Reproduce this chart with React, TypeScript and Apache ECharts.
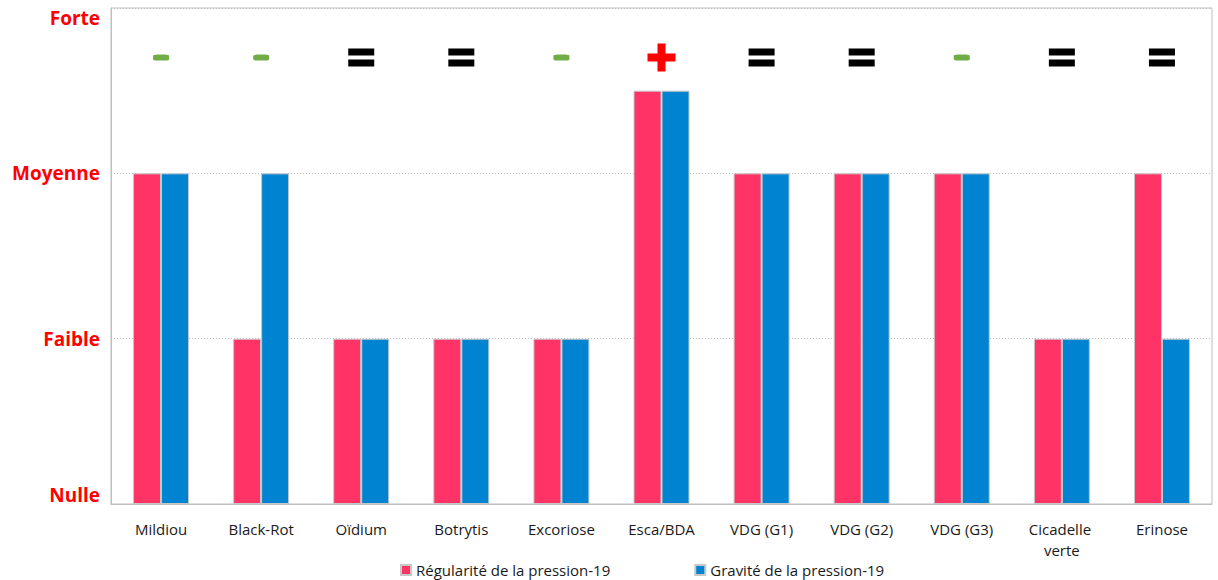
import React, { useEffect, useRef } from "react";
import * as echarts from "echarts";

const categories = [
  "Mildiou",
  "Black-Rot",
  "Oïdium",
  "Botrytis",
  "Excoriose",
  "Esca/BDA",
  "VDG (G1)",
  "VDG (G2)",
  "VDG (G3)",
  "Cicadelle verte",
  "Erinose",
];
const regularite = [2, 1, 1, 1, 1, 2.5, 2, 2, 2, 1, 2];
const gravite = [2, 2, 1, 1, 1, 2.5, 2, 2, 2, 1, 1];
const tendance = ["-", "-", "=", "=", "-", "+", "=", "=", "-", "=", "="];
const tendanceLevel = 2.7;
const yLabels = ["Nulle", "Faible", "Moyenne", "Forte"];
const seriesNames = ["Régularité de la pression-19", "Gravité de la pression-19"];

const FONT = "'Open Sans', sans-serif";

const symbolFor: Record<string, { symbol: string; size: number[]; color: string }> = {
  "-": { symbol: "roundRect", size: [16, 6], color: "#70AD47" },
  "=": {
    symbol: "path://M0,0 H26 V7 H0 Z M0,11 H26 V18 H0 Z",
    size: [26, 18],
    color: "#000000",
  },
  "+": {
    symbol: "path://M10,0 H18 V10 H28 V18 H18 V28 H10 V18 H0 V10 H10 Z",
    size: [28, 28],
    color: "#FF0000",
  },
};

export default function App() {
  const ref = useRef<HTMLDivElement>(null);
  useEffect(() => {
    if (!ref.current) return;
    const chart = echarts.init(ref.current, null, { renderer: "svg" });
    const trendData = tendance.map((t, i) => ({
      value: [categories[i], tendanceLevel],
      symbol: symbolFor[t].symbol,
      symbolSize: symbolFor[t].size,
      itemStyle: { color: symbolFor[t].color, opacity: 1 },
    }));
    chart.setOption({
      animation: false,
      backgroundColor: "#ffffff",
      grid: {
        left: 111,
        right: 6,
        top: 8,
        bottom: 76,
        show: true,
        borderColor: "#BFBFBF",
        borderWidth: 1,
        containLabel: false,
      },
      legend: {
        data: seriesNames,
        top: 562,
        left: 400,
        padding: 0,
        itemGap: 84,
        itemWidth: 10,
        itemHeight: 10,
        icon: "rect",
        textStyle: { fontFamily: FONT, fontSize: 15, color: "#1a1a1a", lineHeight: 16 },
      },
      xAxis: {
        type: "category",
        data: categories,
        axisLine: { lineStyle: { color: "#BFBFBF" } },
        axisTick: { show: false },
        axisLabel: {
          fontFamily: FONT,
          fontSize: 15,
          color: "#1a1a1a",
          margin: 14,
          lineHeight: 21,
          width: 92,
          overflow: "break",
          interval: 0,
        },
      },
      yAxis: {
        type: "value",
        min: 0,
        max: 3,
        interval: 1,
        axisLine: { show: true, lineStyle: { color: "#BFBFBF" } },
        axisTick: { show: false },
        splitLine: { lineStyle: { color: "#BFBFBF", type: [1, 2] } },
        axisLabel: {
          formatter: (v: number) => yLabels[Math.round(v)] ?? "",
          fontFamily: FONT,
          fontSize: 19,
          fontWeight: "bold",
          color: "#FF0000",
          margin: 11,
          verticalAlignMaxLabel: "top",
          verticalAlignMinLabel: "bottom",
        },
      },
      series: [
        {
          name: seriesNames[0],
          type: "bar",
          data: regularite,
          barWidth: 28,
          barGap: "0%",
          itemStyle: { color: "#FF3366", borderColor: "#C8C8C8", borderWidth: 1 },
        },
        {
          name: seriesNames[1],
          type: "bar",
          data: gravite,
          barWidth: 28,
          barGap: "0%",
          itemStyle: { color: "#0084D1", borderColor: "#C8C8C8", borderWidth: 1 },
        },
        {
          name: "Tendance",
          type: "scatter",
          data: trendData,
          z: 5,
        },
      ],
    });
    return () => chart.dispose();
  }, []);
  return (
    <div
      ref={ref}
      style={{ position: "fixed", left: 0, top: 0, width: 1218, height: 580 }}
    />
  );
}
